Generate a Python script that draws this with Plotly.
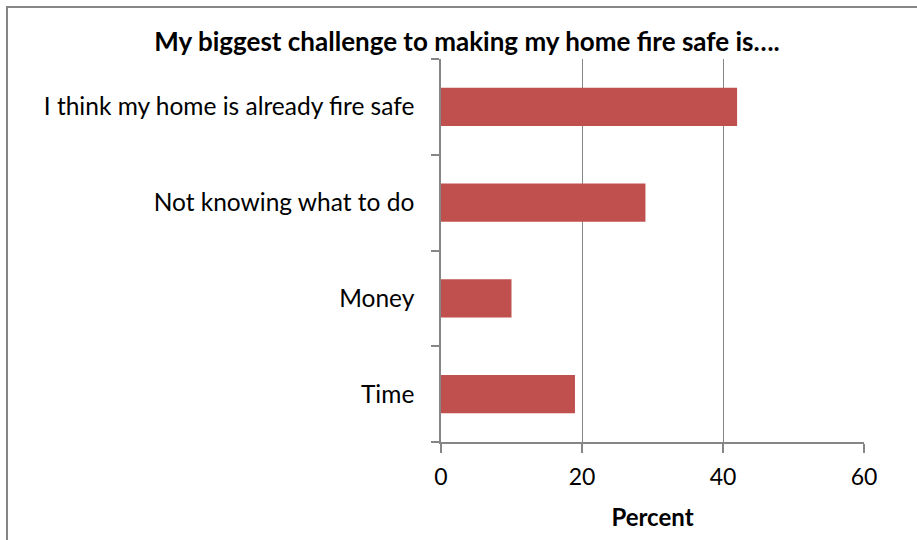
import plotly.graph_objects as go

categories = ["I think my home is already fire safe", "Not knowing what to do", "Money", "Time"]
percent = [42, 29, 10, 19]
x_ticks = [0, 20, 40, 60]
title_text = "My biggest challenge to making my home fire safe is…."
x_title = "Percent"

W, H = 917, 540
L, R, T, B = 441, 53, 59, 98
pw, ph = W - L - R, H - T - B

def px_x(x):
    return (x - L) / pw

def px_y(y):
    return (H - B - y) / ph

BAR = "#C0504D"
GRID = "#868686"
FONT = "Lato"

fig = go.Figure(go.Bar(
    x=percent, y=categories, orientation="h",
    marker=dict(color=BAR, line=dict(width=0)),
    width=0.4,
    hoverinfo="x+y",
))

fig.update_layout(
    width=W, height=H,
    margin=dict(l=L, r=R, t=T, b=B),
    paper_bgcolor="white", plot_bgcolor="white",
    showlegend=False,
    font=dict(family=FONT, size=24, color="black"),
    title=dict(text="<b>" + title_text + "</b>", x=467 / W, xanchor="center",
               y=1 - 42 / H, yanchor="middle",
               font=dict(family=FONT, size=26, color="black")),
    xaxis=dict(range=[0, 60], tickvals=x_ticks, ticktext=[str(v) for v in x_ticks],
               showgrid=True, gridcolor=GRID, gridwidth=1.2,
               showline=True, linecolor=GRID, linewidth=1.5,
               ticks="outside", ticklen=9, tickcolor=GRID, tickwidth=1.5,
               zeroline=False, fixedrange=True,
               ticklabelstandoff=5,
               tickfont=dict(family=FONT, size=23),
               title=dict(text="<b>" + x_title + "</b>", font=dict(family=FONT, size=24), standoff=20)),
    yaxis=dict(categoryorder="array", categoryarray=categories[::-1],
               showline=True, linecolor=GRID, linewidth=1.5,
               ticks="outside", ticklen=8, tickcolor=GRID, tickwidth=1.5,
               tickson="boundaries", showgrid=False, fixedrange=True,
               ticklabelstandoff=20,
               tickfont=dict(family=FONT, size=24.5)),
    shapes=[
        dict(type="line", xref="paper", yref="paper",
             x0=px_x(6), x1=px_x(W + 5), y0=px_y(7), y1=px_y(7),
             line=dict(color=GRID, width=2)),
        dict(type="line", xref="paper", yref="paper",
             x0=px_x(7), x1=px_x(7), y0=px_y(6), y1=px_y(H + 5),
             line=dict(color=GRID, width=2)),
    ],
)

fig.write_html("out.html", config={"displayModeBar": False},
               post_script="document.body.style.margin='0';")
